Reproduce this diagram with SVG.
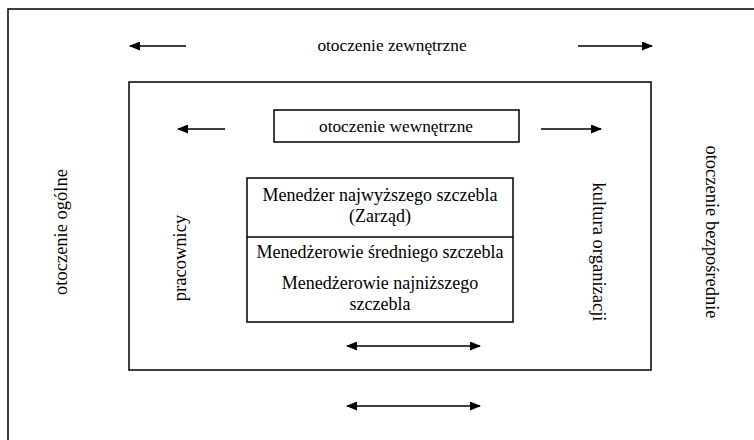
<svg xmlns="http://www.w3.org/2000/svg" width="754" height="440" viewBox="0 0 754 440">
<defs>
<marker id="ah" viewBox="0 0 11 9" refX="10" refY="4.5" markerWidth="11" markerHeight="9" markerUnits="userSpaceOnUse" orient="auto-start-reverse">
<path d="M0,0 L11,4.5 L0,9 Z" fill="#000"/>
</marker>
<style>
.t{font-family:"Liberation Serif","Times New Roman",serif;font-size:18px;fill:#000;text-anchor:middle}
.s{font-size:17.3px}
.v{font-size:18.5px}
.b{fill:none;stroke:#000;stroke-width:1.5}
.a{stroke:#000;stroke-width:1.5;fill:none}
</style>
</defs>
<rect width="754" height="440" fill="#fff"/>
<g id="otoczenie-zewnetrzne-frame">
<path class="b" d="M8,441 L8,9 L755,9"/>
<text class="t s" x="392" y="51">otoczenie zewnętrzne</text>
<text class="t v" transform="translate(61,232) rotate(-90)" x="0" y="6">otoczenie ogólne</text>
<text class="t v" transform="translate(712,232) rotate(90)" x="0" y="6">otoczenie bezpośrednie</text>
</g>
<g id="organizacja">
<rect class="b" x="129" y="82" width="522" height="288"/>
<text class="t v" transform="translate(180,258) rotate(-90)" x="0" y="6">pracownicy</text>
<text class="t v" transform="translate(599,252) rotate(90)" x="0" y="6">kultura organizacji</text>
</g>
<g id="otoczenie-wewnetrzne">
<rect class="b" x="274" y="110" width="245" height="32"/>
<text class="t s" x="396" y="132">otoczenie wewnętrzne</text>
</g>
<g id="menedzerowie">
<rect class="b" x="247" y="178" width="266" height="144"/>
<line class="b" x1="247" y1="237" x2="513" y2="237"/>
<text class="t" x="380" y="201">Menedżer najwyższego szczebla</text>
<text class="t" x="380" y="222">(Zarząd)</text>
<text class="t" x="380" y="258">Menedżerowie średniego szczebla</text>
<text class="t" x="380" y="289">Menedżerowie najniższego</text>
<text class="t" x="380" y="310">szczebla</text>
</g>
<g id="connectors">
<line class="a" x1="186" y1="46" x2="130" y2="46" marker-end="url(#ah)"/>
<line class="a" x1="578" y1="46" x2="652" y2="46" marker-end="url(#ah)"/>
<line class="a" x1="225" y1="129" x2="178" y2="129" marker-end="url(#ah)"/>
<line class="a" x1="541" y1="129" x2="601" y2="129" marker-end="url(#ah)"/>
<line class="a" x1="347" y1="346" x2="480" y2="346" marker-start="url(#ah)" marker-end="url(#ah)"/>
<line class="a" x1="347" y1="406" x2="480" y2="406" marker-start="url(#ah)" marker-end="url(#ah)"/>
</g>
</svg>
